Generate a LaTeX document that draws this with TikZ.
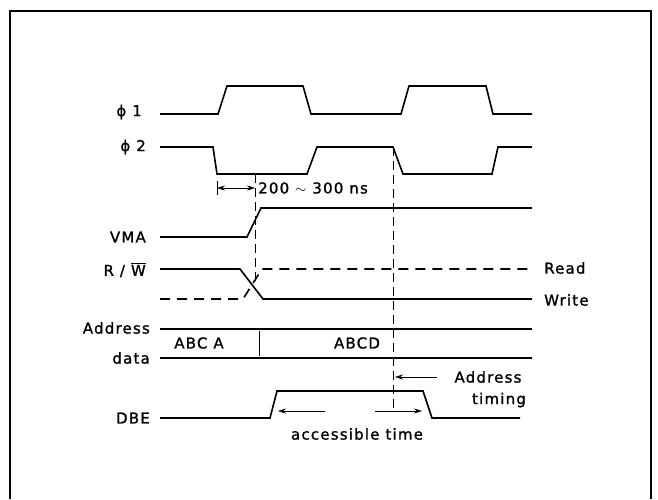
\documentclass[tikz,border=0pt]{standalone}
\usepackage{fontspec}
\usetikzlibrary{arrows.meta}
\setmainfont{DejaVu Sans}[LetterSpace=8, FakeBold=1.2]
\begin{document}
\begin{tikzpicture}[x=1pt,y=-1pt,>={Stealth[length=8pt,width=5pt]},
  sig/.style={line width=1.6pt},
  guide/.style={thin, dash pattern=on 9pt off 5pt},
  lbl/.style={font=\fontsize{15}{17}\selectfont, inner sep=0pt}]
\useasboundingbox (0,0) rectangle (658,499);
\draw[line width=2.5pt] (10,499) -- (10,11) -- (651,11) -- (651,499);

% labels on the left
\node[lbl, anchor=east] (phione) at (142,112) {ϕ 1};
\node[lbl, anchor=east] (phitwo) at (146,147) {ϕ 2};
\node[lbl, anchor=east] (vma) at (146,237) {VMA};
\node[lbl, anchor=east] (rw) at (146,270) {R / $\overline{\hbox{W}}$};
\node[lbl, anchor=east] (addr) at (150,328) {Address};
\node[lbl, anchor=east] (data) at (150,358) {data};
\node[lbl, anchor=east] (dbe) at (150,418) {DBE};

% clocks
\draw[sig] (160,114) -- (218,114) -- (227,86) -- (303,86) -- (311,114) -- (401,114) -- (409,86) -- (486,86) -- (493,114) -- (532,114);
\draw[sig] (160,147) -- (213,147) -- (217,174) -- (307,174) -- (317,147) -- (393,147) -- (403,174) -- (492,174) -- (498,147) -- (532,147);

% guide lines
\draw[guide] (255,174) -- (255,285);
\draw[guide] (393,147) -- (393,408);

% delay
\coordinate (dl) at (217,188);
\coordinate (dr) at (255,188);
\draw (217,181) -- (217,195);
\draw[<->] (dl) -- (dr);
\node[lbl, anchor=west] (delay) at (258,188) {200 $\sim$ 300 ns};

% VMA
\draw[sig] (160,237) -- (247,237) -- (261,208) -- (532,208);

% R/W
\draw[sig] (160,269) -- (240,269) -- (263,299) -- (532,299);
\draw[sig, dash pattern=on 10pt off 7pt] (160,299) -- (243,299) -- (262,269) -- (532,269);
\node[lbl, anchor=west] (read) at (544,268) {Read};
\node[lbl, anchor=west] (write) at (544,300) {Write};

% address bus
\draw[sig] (160,329) -- (532,329);
\draw[sig] (160,358) -- (532,358);
\draw (259,331) -- (259,356);
\node[lbl] (abca) at (199,343) {ABC A};
\node[lbl] (abcd) at (357,343) {ABCD};

% address timing
\coordinate (ta) at (437,377);
\coordinate (tb) at (395,377);
\draw[->] (ta) -- (tb);
\node[lbl] (tim1) at (488,377) {Address};
\node[lbl] (tim2) at (499,400) {timing};

% DBE
\draw[sig] (160,418) -- (270,418) -- (277,391) -- (423,391) -- (432,418) -- (520,418);
\coordinate (al) at (278,411);
\coordinate (am) at (325,411);
\coordinate (an) at (375,411);
\coordinate (ar) at (422,411);
\draw[->] (am) -- (al);
\draw[->] (an) -- (ar);
\node[lbl] (acc) at (357,434) {accessible time};
\end{tikzpicture}
\end{document}
